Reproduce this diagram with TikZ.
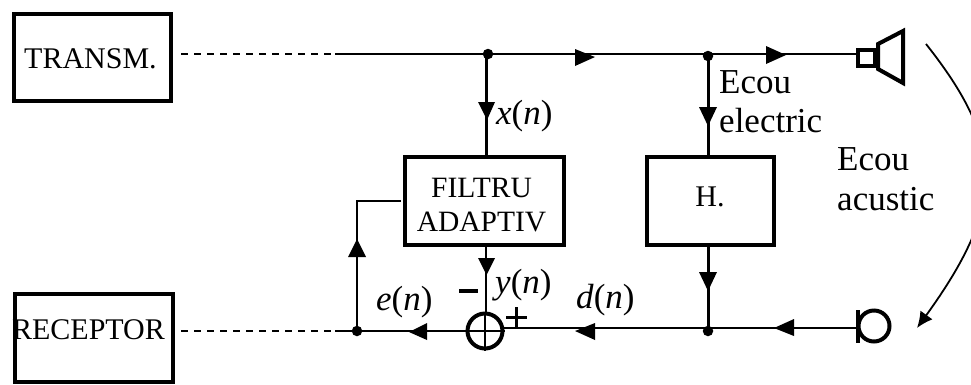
\documentclass[tikz,border=0pt]{standalone}
\usepackage{fontspec}
\setmainfont{Liberation Serif}
\usetikzlibrary{arrows.meta}
\tikzset{
  blockbox/.style={draw,line width=4.2pt,inner sep=0pt},
  wire/.style={line width=2.5pt},
  dashwire/.style={line width=2.2pt,dash pattern=on 7pt off 6pt},
  junction/.style={circle,fill=black,inner sep=0pt,minimum size=10.5pt},
  txt/.style={inner sep=0pt,anchor=base west,font=\fontsize{35}{38}\selectfont},
  boxtxt/.style={inner sep=0pt,anchor=base,font=\fontsize{30}{33}\selectfont},
  filtxt/.style={boxtxt,font=\fontsize{29.5}{33}\selectfont},
  tri/.style={fill=black,draw=none}
}
\begin{document}
\begin{tikzpicture}[x=1pt,y=-1pt]
\useasboundingbox (0,0) rectangle (971,384);
% blocks
\node[blockbox,minimum width=157.5pt,minimum height=87.5pt] (tx) at (92.5,57.5) {};
\node[blockbox,minimum width=157.5pt,minimum height=87.5pt] (rx) at (94,338) {};
\node[blockbox,minimum width=159.5pt,minimum height=87.5pt] (flt) at (484.5,201) {};
\node[blockbox,minimum width=127.5pt,minimum height=87.5pt] (h) at (710.5,201) {};
\node[boxtxt] (txt1) at (90.5,68) {TRANSM.};
\node[boxtxt] (txt2) at (88.5,339) {RECEPTOR};
\node[filtxt] (txt3) at (481.5,197) {FILTRU};
\node[filtxt] (txt4) at (481.5,231) {ADAPTIV};
\node[boxtxt] (txt5) at (710,206) {H.};
% coordinates
\coordinate (j1) at (488,54);
\coordinate (j2) at (708,56);
\coordinate (txs) at (181,54);
\coordinate (txe) at (335,54);
\coordinate (spk) at (856,54);
\coordinate (j3) at (708,331);
\coordinate (mic) at (857,328);
\coordinate (j4) at (357,331);
\coordinate (rxs) at (181,331);
\coordinate (rxe) at (335,331);
\coordinate (fbk) at (357,201);
\coordinate (fbe) at (401,201);
\coordinate (sr) at (500,328);
\node[circle,draw,line width=4pt,minimum size=35pt,inner sep=0pt] (sum) at (485,331) {};
% wires
\draw[dashwire] (txs) -- (txe);
\draw[wire] (txe) -- (spk);
\draw[wire] (486.5,54) -- (486.5,155);
\draw[wire] (708.5,54) -- (708.5,155);
\draw[wire] (708.5,247) -- (708.5,331);
\draw[wire] (mic) -- (sr);
\draw[wire] (sum.west) -- (j4);
\draw[dashwire] (rxs) -- (rxe);
\draw[wire] (rxe) -- (j4);
\draw[wire] (j4) -- (fbk) -- (fbe);
\draw[wire] (486,247) -- (486,313);
\draw[line width=2.5pt] (sum.north) -- (sum.south) (sum.west) -- (sum.east);
% junctions
\node[junction] at (j1) {};
\node[junction] at (j2) {};
\node[junction] at (j3) {};
\node[junction] at (j4) {};
% arrowheads
\fill[tri] (575,49) -- (575,66) -- (595,57) -- cycle;
\fill[tri] (766,46) -- (766,64) -- (786,55) -- cycle;
\fill[tri] (478,102) -- (495,102) -- (487,120) -- cycle;
\fill[tri] (699,107) -- (717,107) -- (708,126) -- cycle;
\fill[tri] (699,272) -- (717,272) -- (708,291) -- cycle;
\fill[tri] (478,258) -- (495,258) -- (486.5,275) -- cycle;
\fill[tri] (348,257) -- (366,257) -- (357,239) -- cycle;
\fill[tri] (794,319) -- (794,336) -- (774,328) -- cycle;
\fill[tri] (427,323) -- (427,340) -- (409,332) -- cycle;
\fill[tri] (595,323) -- (595,340) -- (575,331) -- cycle;
% speaker
\draw[line width=4pt] (858,49.5) rectangle (874.5,65.5);
\draw[line width=4pt,line join=miter] (878,44) -- (903,31) -- (903,83) -- (878,69) -- cycle;
% mic
\draw[line width=4pt] (857.5,310) -- (857.5,343);
\node[circle,draw,line width=4pt,minimum size=31pt,inner sep=0pt] (mc) at (874,326) {};
% acoustic arc
\begin{scope}
\clip (0,0) rectangle (971,384);
\coordinate (a1) at (926,44);
\coordinate (a4) at (917,328);
\draw[line width=1.8pt,-{Latex[length=16pt,width=15pt]}] (a1) .. controls (1006,145) and (1006,205) .. (a4);
\end{scope}
% labels
\node[txt] at (719,93) {Ecou};
\node[txt] at (719,132) {electric};
\node[txt] at (837,170) {Ecou};
\node[txt] at (837,210) {acustic};
\node[txt] at (496,124) {\textit{x}(\textit{n})};
\node[txt] at (495,293) {\textit{y}(\textit{n})};
\node[txt] at (376,310) {\textit{e}(\textit{n})};
\node[txt] at (576,308) {\textit{d}(\textit{n})};
\draw[line width=4pt] (459,291) -- (478,291);
\draw[line width=3pt] (506,317) -- (527,317) (516,307) -- (516,328);
\end{tikzpicture}
\end{document}
